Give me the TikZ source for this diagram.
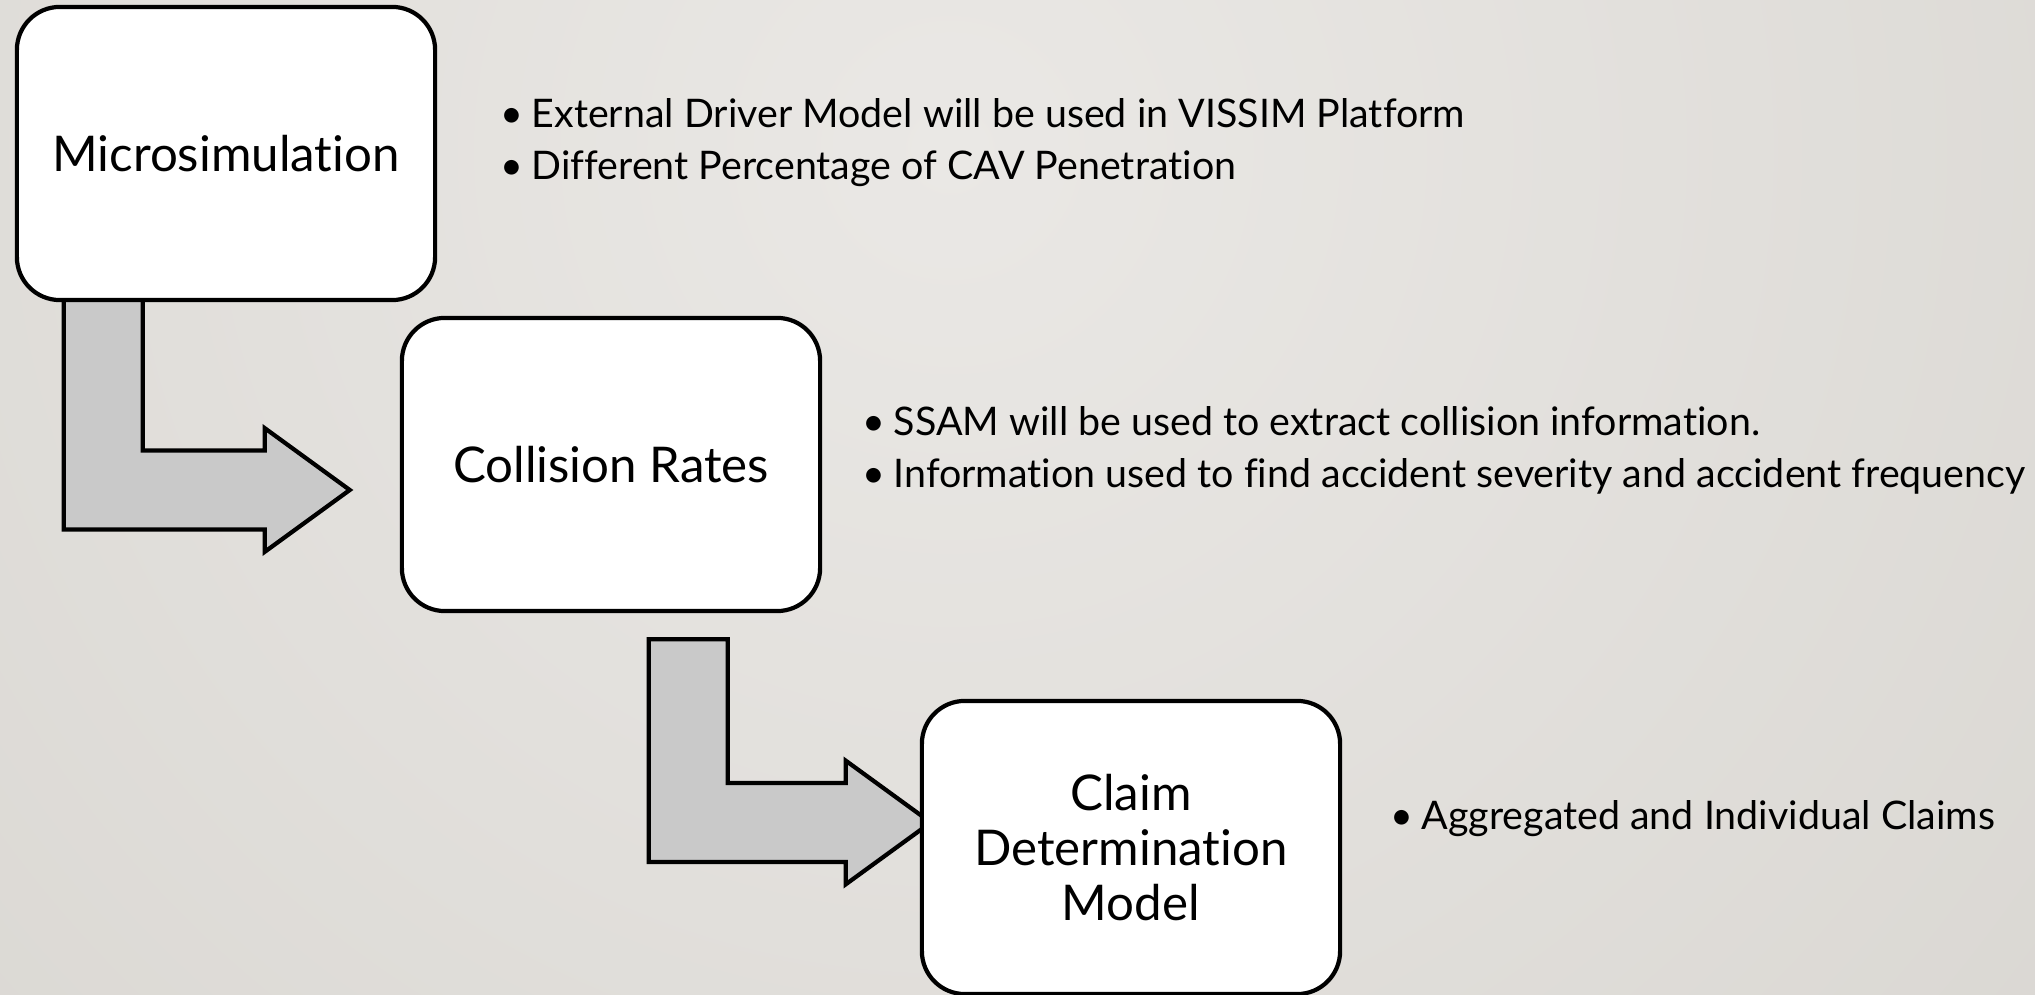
\documentclass[tikz,border=0pt]{standalone}
\usepackage{fontspec}
\setmainfont{Lato}[Ligatures=NoCommon]
\usetikzlibrary{positioning,calc,backgrounds}
\definecolor{bgin}{RGB}{234,232,229}
\definecolor{bgout}{RGB}{205,202,196}
\definecolor{arrowgray}{RGB}{201,201,201}

\newcommand{\bendarrow}[2]{%
  \path[lstyle] let \p1=#1, \p2=#2 in
    (\x1-11.24pt,\y1) -- (\x1-11.24pt,\y2-11.24pt) -- (\x2-24.2pt,\y2-11.24pt)
    -- (\x2-24.2pt,\y2-17.6pt) -- (\x2,\y2) -- (\x2-24.2pt,\y2+17.6pt)
    -- (\x2-24.2pt,\y2+11.24pt) -- (\x1+11.24pt,\y2+11.24pt) -- (\x1+11.24pt,\y1) -- cycle;}

\begin{document}
\begin{tikzpicture}[x=0.01cm,y=-0.01cm,
	boxstyle/.style={rectangle, rounded corners=0.43cm, fill=white, draw=black,
	line width=1.2pt, minimum width=4.18cm, minimum height=2.93cm, align=center,
	font=\fontsize{14}{15.6}\selectfont},
	bullets/.style={anchor=west, inner sep=0pt, align=left,
	font=\fontsize{11.2}{14.8}\selectfont},
	lstyle/.style={fill=arrowgray, draw=black, line width=1.2pt, line join=miter}
	]
	\useasboundingbox (0,0) rectangle (2035,995);
	
	\node[boxstyle] (micro) at (226,153.5) {Microsimulation};
	\node[boxstyle] (colrate) at (611,464.5) {Collision Rates};
	\node[boxstyle] (claim) at (1131,847.5) {Claim\\Determination\\Model};
	
	\node[bullets] (microtxt) at (500,143) {\makebox[0.31cm][l]{•}External Driver Model will be used in VISSIM Platform\\
	\makebox[0.31cm][l]{•}Different Percentage of CAV Penetration};
	\node[bullets] (colratetxt) at (862,450) {\makebox[0.31cm][l]{•}SSAM will be used to extract collision information.\\
	\makebox[0.31cm][l]{•}Information used to find accident severity and accident frequency};
	\node[bullets] (claimtxt) at (1390,819) {\makebox[0.31cm][l]{•}Aggregated and Individual Claims};
	
	\begin{pgfonlayer}{background}
	\begin{scope}
	\clip (0,0) rectangle (2035,995);
	\shade[inner color=bgin, outer color=bgout] (950,150) circle (2600);
	\end{scope}
	\coordinate (a1s) at ($(micro.south west)+(88.5,-10)$);
	\coordinate (a1t) at ($(colrate.west)+(-50,25.5)$);
	\coordinate (a2s) at ($(colrate.south west)+(288.5,26)$);
	\coordinate (a2t) at ($(claim.west)+(11,-25)$);
	\bendarrow{(a1s)}{(a1t)}
	\bendarrow{(a2s)}{(a2t)}
	\end{pgfonlayer}
\end{tikzpicture}
\end{document}
